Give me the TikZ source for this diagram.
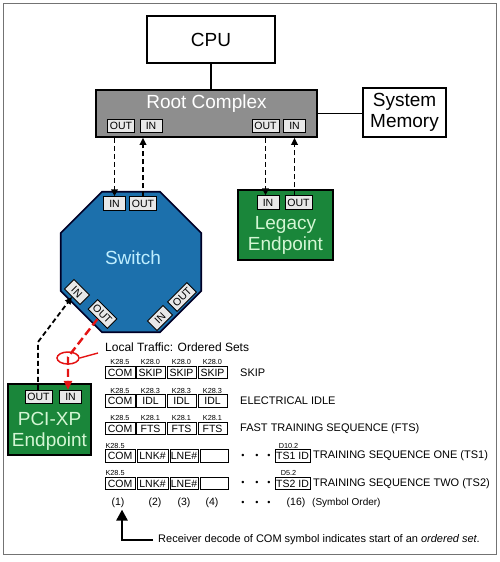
\documentclass[tikz,border=0pt]{standalone}
\usepackage{fontspec}
\setmainfont{Liberation Sans}
\usetikzlibrary{shapes.geometric,arrows.meta,positioning,calc}
\definecolor{rcgray}{RGB}{142,142,142}
\definecolor{swblue}{RGB}{28,112,172}
\definecolor{epgreen}{RGB}{26,134,58}
\definecolor{eptext}{RGB}{212,246,212}
\definecolor{swtext}{RGB}{190,238,255}
\definecolor{portgray}{RGB}{232,232,232}
\definecolor{redline}{RGB}{228,20,20}

\begin{document}
\begin{tikzpicture}[x=1pt, y=-1pt,
    block/.style={draw, line width=1.6pt, rectangle, inner sep=0pt},
    bigtext/.style={font=\fontsize{19}{20.5}\selectfont, align=center, inner sep=0pt},
    port/.style={draw, line width=0.8pt, fill=portgray, font=\fontsize{10.5}{11}\selectfont, inner xsep=2.5pt, inner ysep=0pt, minimum width=22pt, minimum height=13.5pt, text height=7.6pt, text depth=0pt},
    cell/.style={draw, line width=0.8pt, font=\fontsize{10.5}{11}\selectfont, inner sep=0pt, minimum height=12.5pt, text height=7.6pt, text depth=0pt},
    klabel/.style={font=\fontsize{7.3}{8}\selectfont, inner sep=0.7pt, anchor=south},
    desc/.style={font=\fontsize{11}{12}\selectfont, anchor=west, inner sep=0pt},
    ord/.style={font=\fontsize{10.5}{12}\selectfont, inner sep=0.5pt},
    dotmark/.style={font=\fontsize{9}{10}\selectfont, inner sep=0pt},
    link/.style={line width=1.8pt, dash pattern=on 5pt off 3pt, -{Triangle[length=7pt,width=6.5pt]}},
    redlink/.style={redline, line width=2.4pt, dash pattern=on 8pt off 4pt, -{Triangle[length=9pt,width=8pt]}}
]
\useasboundingbox (0,0) rectangle (500,562);
\draw[black!55, line width=1pt] (3,3) rectangle (496,554);

% CPU, Root Complex, System Memory
\node[block, minimum width=128, minimum height=47, font=\fontsize{19}{20}\selectfont] (cpu) at (211,39.5) {CPU};
\node[block, fill=rcgray, minimum width=221, minimum height=47] (rc) at (206.5,113.5) {};
\node[bigtext, text=white] (rctext) at (206.5,104) {Root Complex};
\node[block, minimum width=83, minimum height=49, bigtext] (mem) at (404.5,112.5) {System\\Memory};
\node[port] (rcout1) at (121,126) {OUT};
\node[port] (rcin1) at (151,126) {IN};
\node[port] (rcout2) at (265.5,126) {OUT};
\node[port] (rcin2) at (294.5,126) {IN};

\draw[line width=1.6pt] (cpu.south) -- (cpu.south |- rc.north);
\draw[line width=1.6pt] (rc.east) -- (rc.east -| mem.west);

% Switch
\node[draw=black!85!blue, line width=1.6pt, fill=swblue, regular polygon, regular polygon sides=8, minimum size=152, inner sep=0pt] (sw) at (131,262) {};
\node[bigtext, text=swtext] (swtext) at (133,258) {Switch};
\node[port] (swin) at (114.5,203.5) {IN};
\node[port] (swout) at (143,203.5) {OUT};
\node[port, rotate=-45] (swinl) at (77,292) {IN};
\node[port, rotate=-45] (swoutl) at (102.5,314) {OUT};
\node[port, rotate=45] (swinr) at (160,318) {IN};
\node[port, rotate=45] (swoutr) at (182,297) {OUT};

% Legacy Endpoint
\node[block, fill=epgreen, minimum width=95, minimum height=70] (leg) at (285.5,225) {};
\node[bigtext, text=eptext] (legtext) at (285.5,235.5) {Legacy\\Endpoint};
\node[port] (lin) at (268,202.5) {IN};
\node[port] (lout) at (298.5,202.5) {OUT};

% PCI-XP Endpoint
\node[block, fill=epgreen, minimum width=83, minimum height=71] (pci) at (49.5,419.5) {};
\node[bigtext, text=eptext] (pcitext) at (49.5,431.5) {PCI-XP\\Endpoint};
\node[port] (pout) at (38.5,397) {OUT};
\node[port] (pin) at (70.5,397) {IN};

% Links
\draw[link] (swin.north |- rc.south) -- (swin.north);
\draw[link] (swout.north) -- (swout.north |- rc.south);
\draw[link] (rcout2.south |- rc.south) -- (rcout2.south |- lin.north);
\draw[link] (rcin2.south |- lout.north) -- (rcin2.south |- rc.south);
\coordinate (bendk) at (38,342);
\draw[link] (pout.north -| bendk) -- (bendk) -- (swinl.south);
\coordinate (bendr) at (68,357);
\draw[redlink] (swoutl.south) -- (bendr) -- (bendr |- pin.north);
\node[draw=redline, line width=1.5pt, ellipse, minimum width=22, minimum height=12, inner sep=0pt] (loop) at (68,358) {};
\coordinate (lttip) at (98,353);
\draw[redline, line width=1.4pt] (loop.east) -- (lttip);

% Ordered sets
\node[font=\fontsize{12}{14}\selectfont, anchor=west, inner sep=0pt] (ltitle) at (105,347) {Local Traffic: Ordered Sets};

% SKIP
\node[cell, minimum width=30] (s1) at (120,372.5) {COM};
\node[cell, minimum width=29] (s2) at (150.5,372.5) {SKIP};
\node[cell, minimum width=29] (s3) at (181.5,372.5) {SKIP};
\node[cell, minimum width=29] (s4) at (212.5,372.5) {SKIP};
\node[klabel] at (s1.north) {K28.5};
\node[klabel] at (s2.north) {K28.0};
\node[klabel] at (s3.north) {K28.0};
\node[klabel] at (s4.north) {K28.0};
\node[desc] (dskip) at (240,372.5) {SKIP};

% Electrical idle
\node[cell, minimum width=30] (e1) at (120,401) {COM};
\node[cell, minimum width=29] (e2) at (150.5,401) {IDL};
\node[cell, minimum width=29] (e3) at (181.5,401) {IDL};
\node[cell, minimum width=29] (e4) at (212.5,401) {IDL};
\node[klabel] at (e1.north) {K28.5};
\node[klabel] at (e2.north) {K28.3};
\node[klabel] at (e3.north) {K28.3};
\node[klabel] at (e4.north) {K28.3};
\node[desc] (didle) at (240,401) {ELECTRICAL IDLE};

% FTS
\node[cell, minimum width=30] (f1) at (120,428.5) {COM};
\node[cell, minimum width=29] (f2) at (150.5,428.5) {FTS};
\node[cell, minimum width=29] (f3) at (181.5,428.5) {FTS};
\node[cell, minimum width=29] (f4) at (212.5,428.5) {FTS};
\node[klabel] at (f1.north) {K28.5};
\node[klabel] at (f2.north) {K28.1};
\node[klabel] at (f3.north) {K28.1};
\node[klabel] at (f4.north) {K28.1};
\node[desc] (dfts) at (240,428.5) {FAST TRAINING SEQUENCE (FTS)};

% TS1
\node[cell, minimum width=30] (a1) at (120,456) {COM};
\node[cell, minimum width=31] (a2) at (152.5,456) {LNK\#};
\node[cell, minimum width=28] (a3) at (184,456) {LNE\#};
\node[cell, minimum width=28] (a4) at (214,456) {};
\node[cell, minimum width=35] (a16) at (292.5,456) {TS1 ID};
\node[klabel, anchor=south west] at (a1.north west) {K28.5};
\node[klabel, xshift=-4pt] at (a16.north) {D10.2};
\node[desc] (dts1) at (313,456) {TRAINING SEQUENCE ONE (TS1)};

% TS2
\node[cell, minimum width=30] (b1) at (120,483.5) {COM};
\node[cell, minimum width=31] (b2) at (152.5,483.5) {LNK\#};
\node[cell, minimum width=28] (b3) at (184,483.5) {LNE\#};
\node[cell, minimum width=28] (b4) at (214,483.5) {};
\node[cell, minimum width=35] (b16) at (292.5,483.5) {TS2 ID};
\node[klabel, anchor=south west] at (b1.north west) {K28.5};
\node[klabel, xshift=-4pt] at (b16.north) {D5.2};
\node[desc] (dts2) at (313,483.5) {TRAINING SEQUENCE TWO (TS2)};

% dots
\node[dotmark] (ad1) at (243,456) {\textbullet};
\node[dotmark] (ad2) at (257,456) {\textbullet};
\node[dotmark] (ad3) at (269,456) {\textbullet};
\node[dotmark] (bd1) at (243,483.5) {\textbullet};
\node[dotmark] (bd2) at (257,483.5) {\textbullet};
\node[dotmark] (bd3) at (269,483.5) {\textbullet};

% Symbol order
\node[ord] (o1) at (118,503) {(1)};
\node[ord] (o2) at (155,503) {(2)};
\node[ord] (o3) at (184,503) {(3)};
\node[ord] (o4) at (212,503) {(4)};
\node[dotmark] (od1) at (243,503) {\textbullet};
\node[dotmark] (od2) at (257,503) {\textbullet};
\node[dotmark] (od3) at (269,503) {\textbullet};
\node[ord] (o16) at (296,503) {(16)};
\node[font=\fontsize{10}{12}\selectfont, anchor=west, inner sep=0pt] (osym) at (312,503) {(Symbol Order)};

% Receiver note
\node[font=\fontsize{11}{12}\selectfont, anchor=west, inner sep=0pt] (rxnote) at (158,540) {Receiver decode of COM symbol indicates start of an \textit{ordered set}.};
\draw[line width=2.6pt, -{Triangle[length=11pt,width=11pt]}] ([xshift=-5pt]rxnote.west) -| ([xshift=4pt, yshift=-1pt]o1.south);

\end{tikzpicture}
\end{document}
